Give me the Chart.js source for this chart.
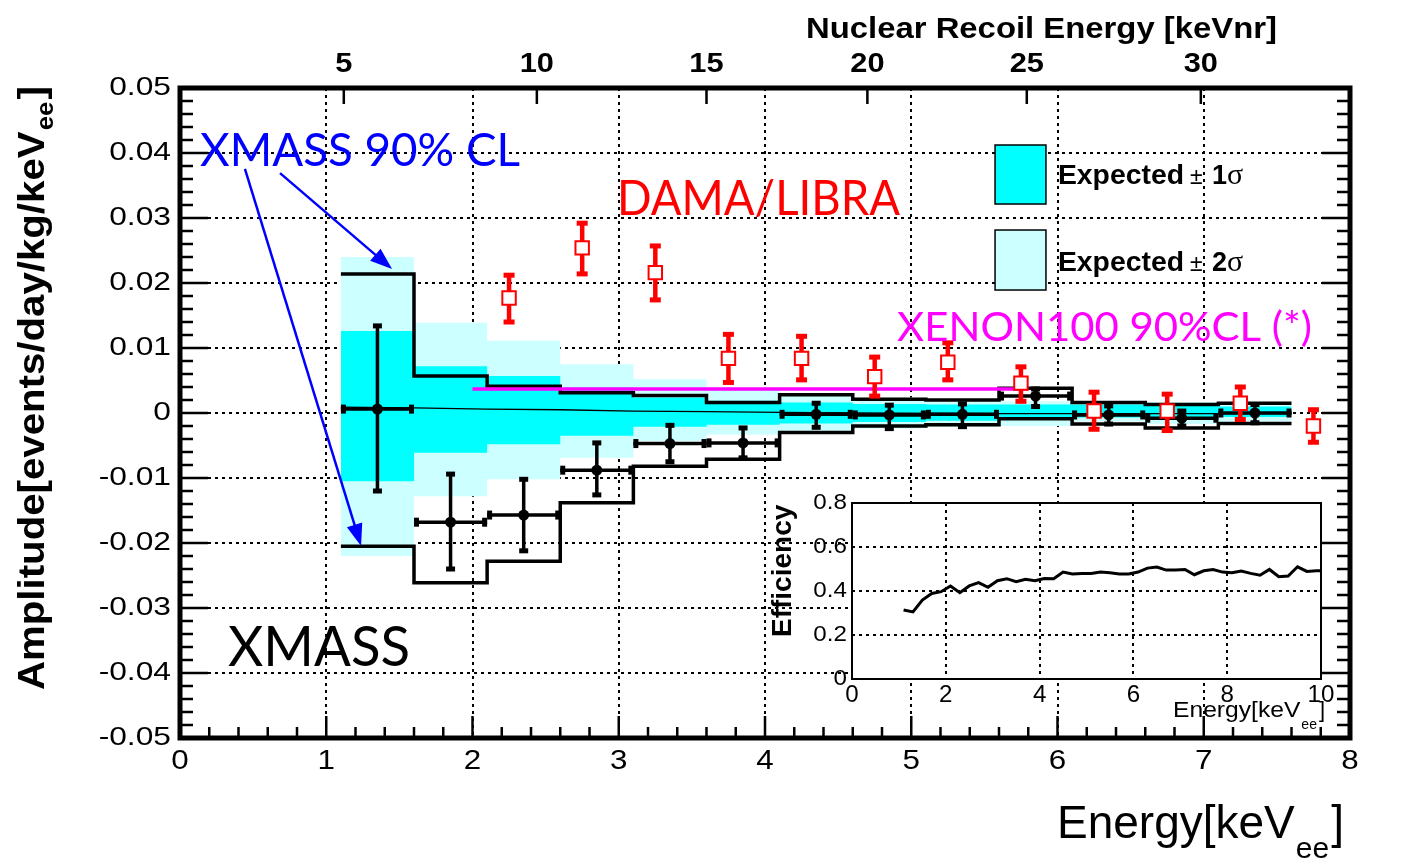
<!DOCTYPE html>
<html>
<head>
<meta charset="utf-8">
<title>XMASS modulation amplitude</title>
<script src="https://cdn.jsdelivr.net/npm/chart.js@4.4.1/dist/chart.umd.min.js"></script>
<style>
  body { margin: 0; background: #fff; }
  #wrap { position: relative; width: 1404px; height: 861px; }
  #wrap canvas { position: absolute; }
  #main { left: 0; top: 0; }
  #inset { left: 760px; top: 488px; }
</style>
</head>
<body>
<div id="wrap">
  <canvas id="main" width="1404" height="861"></canvas>
  <canvas id="inset" width="580" height="252"></canvas>
</div>
<script>
// energy bins of the XMASS analysis [keVee]
var binEdges = [1.1, 1.6, 2.1, 2.6, 3.1, 3.6, 4.1, 4.6, 5.1, 5.6, 6.1, 6.6, 7.1, 7.6];
var binCenters = [1.35, 1.85, 2.35, 2.85, 3.35, 3.85, 4.35, 4.85, 5.35, 5.85, 6.35, 6.85, 7.35];

// XMASS measured amplitude and the ends of its error bars
var xmassAmp = [0.0006, -0.0168, -0.0157, -0.0088, -0.0047, -0.0046, -0.0002, -0.0003, -0.0002, 0.0026, -0.0003, -0.0008, 0.0000];
var xmassErrTop = [0.0134, -0.0094, -0.0102, -0.0046, -0.0019, -0.0023, 0.0015, 0.0012, 0.0014, 0.0037, 0.0011, 0.0003, 0.0013];
var xmassErrBottom = [-0.0120, -0.0240, -0.0212, -0.0126, -0.0075, -0.0069, -0.0022, -0.0024, -0.0021, 0.0010, -0.0017, -0.0020, -0.0015];

// XMASS 90% CL limits per bin
var xmassUpper = [0.0214, 0.0057, 0.0041, 0.0031, 0.0027, 0.0016, 0.0028, 0.0021, 0.0020, 0.0038, 0.0016, 0.0013, 0.0015];
var xmassLower = [-0.0205, -0.0261, -0.0228, -0.0138, -0.0082, -0.0071, -0.0030, -0.0020, -0.0018, -0.0009, -0.0017, -0.0023, -0.0016];

// expected sensitivity bands per bin
var band1Top = [0.0126, 0.0072, 0.0057, 0.0039, 0.0024, 0.0019, 0.0016, 0.0014, 0.0013, 0.0013, 0.0013, 0.0011, 0.0010];
var band1Bottom = [-0.0105, -0.0061, -0.0048, -0.0035, -0.0021, -0.0018, -0.0016, -0.0014, -0.0012, -0.0010, -0.0007, -0.0008, -0.0006];
var band2Top = [0.0240, 0.0139, 0.0111, 0.0075, 0.0052, 0.0037, 0.0027, 0.0024, 0.0021, 0.0018, 0.0016, 0.0017, 0.0016];
var band2Bottom = [-0.0220, -0.0128, -0.0102, -0.0069, -0.0043, -0.0033, -0.0028, -0.0024, -0.0021, -0.0020, -0.0013, -0.0017, -0.0013];

// expected (median) line
var expectedE = [1.1, 1.6, 2.1, 2.6, 3.1, 3.6, 4.1, 4.6, 5.6, 6.6, 7.6];
var expectedAmp = [0.0009, 0.0008, 0.0006, 0.0005, 0.0003, 0.0002, 0.0001, 0.0000, -0.0001, -0.0001, -0.0001];

// DAMA/LIBRA points
var damaE = [2.25, 2.75, 3.25, 3.75, 4.25, 4.75, 5.25, 5.75, 6.25, 6.75, 7.25, 7.75];
var damaAmp = [0.0177, 0.0254, 0.0216, 0.0084, 0.0084, 0.0056, 0.0078, 0.0046, 0.0003, 0.0003, 0.0015, -0.0020];
var damaErrTop = [0.0212, 0.0292, 0.0257, 0.0121, 0.0118, 0.0086, 0.0108, 0.0071, 0.0032, 0.0029, 0.0040, 0.0005];
var damaErrBottom = [0.0140, 0.0214, 0.0174, 0.0047, 0.0051, 0.0026, 0.0051, 0.0018, -0.0025, -0.0027, -0.0010, -0.0045];

// XENON100 90% CL
var xenonE = [2.0, 5.8];
var xenonAmp = [0.0037, 0.0037];

// axis ticks
var energyTicks = [0, 1, 2, 3, 4, 5, 6, 7, 8];
var energyTickLabels = ['0', '1', '2', '3', '4', '5', '6', '7', '8'];
var ampTicks = [-0.05, -0.04, -0.03, -0.02, -0.01, 0, 0.01, 0.02, 0.03, 0.04, 0.05];
var ampTickLabels = ['-0.05', '-0.04', '-0.03', '-0.02', '-0.01', '0', '0.01', '0.02', '0.03', '0.04', '0.05'];
var nrTickPos = [1.12, 2.44, 3.60, 4.70, 5.79, 6.98];
var nrTickLabels = ['5', '10', '15', '20', '25', '30'];

// inset: efficiency
var effE = [1.1, 1.3, 1.5, 1.7, 1.9, 2.1, 2.3, 2.5, 2.7, 2.9, 3.1, 3.3, 3.5, 3.7, 3.9, 4.1, 4.3, 4.5, 4.7, 4.9, 5.1, 5.3, 5.5, 5.7, 5.9, 6.1, 6.3, 6.5, 6.7, 6.9, 7.1, 7.3, 7.5, 7.7, 7.9, 8.1, 8.3, 8.5, 8.7, 8.9, 9.1, 9.3, 9.5, 9.7, 9.9, 10.0];
var effVal = [0.314, 0.305, 0.359, 0.389, 0.397, 0.423, 0.392, 0.423, 0.438, 0.417, 0.447, 0.456, 0.442, 0.453, 0.447, 0.457, 0.456, 0.486, 0.477, 0.479, 0.480, 0.486, 0.483, 0.477, 0.477, 0.486, 0.504, 0.509, 0.495, 0.495, 0.498, 0.474, 0.492, 0.498, 0.486, 0.483, 0.491, 0.480, 0.472, 0.498, 0.465, 0.468, 0.510, 0.489, 0.492, 0.492];
var effETicks = [0, 2, 4, 6, 8, 10];
var effETickLabels = ['0', '2', '4', '6', '8', '10'];
var effTicks = [0, 0.2, 0.4, 0.6, 0.8];
var effTickLabels = ['0', '0.2', '0.4', '0.6', '0.8'];

var ROOT = '"Liberation Sans", Arial, sans-serif';
var PPT = 'Lato, "Open Sans", sans-serif';

function pairs(xs, ys) {
    return xs.map(function(x, i) { return {x: x, y: ys[i]}; });
}

// histogram style: one point per bin edge, last value repeated
function steps(edges, vals) {
    var pts = pairs(edges.slice(0, vals.length), vals);
    pts.push({x: edges[vals.length], y: vals[vals.length - 1]});
    return pts;
}

function tickList(vals) {
    return function(axis) { axis.ticks = vals.map(function(v) { return {value: v}; }); };
}

// draws text, optionally stretched horizontally, returns drawn width
function txt(c, s, x, y, font, color, align, sx, base) {
    sx = sx || 1;
    c.save();
    c.font = font;
    c.fillStyle = color || '#000';
    c.textAlign = 'left';
    c.textBaseline = base || 'alphabetic';
    c.translate(x, y);
    c.scale(sx, 1);
    var w = c.measureText(s).width;
    var dx = align === 'right' ? -w : (align === 'center' ? -w / 2 : 0);
    c.fillText(s, dx, 0);
    c.restore();
    return w * sx;
}

// text squeezed/stretched to go from x0 to x1
function fitTxt(c, s, x0, x1, y, font, color) {
    c.save();
    c.font = font;
    var w = c.measureText(s).width;
    c.restore();
    txt(c, s, x0, y, font, color, 'left', (x1 - x0) / w);
}

function arrow(c, x0, y0, x1, y1, color) {
    var a = Math.atan2(y1 - y0, x1 - x0), len = 22, half = 8;
    c.save();
    c.strokeStyle = color; c.fillStyle = color; c.lineWidth = 2.5;
    c.beginPath();
    c.moveTo(x0, y0);
    c.lineTo(x1 - Math.cos(a) * len * 0.8, y1 - Math.sin(a) * len * 0.8);
    c.stroke();
    c.beginPath();
    c.moveTo(x1, y1);
    c.lineTo(x1 - Math.cos(a) * len - Math.sin(a) * half, y1 - Math.sin(a) * len + Math.cos(a) * half);
    c.lineTo(x1 - Math.cos(a) * len + Math.sin(a) * half, y1 - Math.sin(a) * len - Math.cos(a) * half);
    c.closePath();
    c.fill();
    c.restore();
}

// error bars go under the markers of their dataset
var errorBars = {
    id: 'errorBars',
    beforeDatasetDraw: function(chart, args) {
        var ds = chart.data.datasets[args.index];
        if (!ds.errTop) return;
        var xs = chart.scales.x, ys = chart.scales.y, c = chart.ctx;
        c.save();
        c.strokeStyle = ds.barColor;
        c.fillStyle = ds.barColor;
        c.lineWidth = ds.barWidth;
        for (var i = 0; i < ds.errTop.length; i++) {
            var x = xs.getPixelForValue(ds.data[i].x);
            var y = ys.getPixelForValue(ds.data[i].y);
            var yt = ys.getPixelForValue(ds.errTop[i]);
            var yb = ys.getPixelForValue(ds.errBottom[i]);
            c.beginPath();
            c.moveTo(x, yt); c.lineTo(x, yb);
            c.stroke();
            c.fillRect(x - ds.capW / 2, yt - ds.capH / 2, ds.capW, ds.capH);
            c.fillRect(x - ds.capW / 2, yb - ds.capH / 2, ds.capW, ds.capH);
            if (ds.binLo) {
                var xl = xs.getPixelForValue(ds.binLo[i]);
                var xr = xs.getPixelForValue(ds.binHi[i]);
                c.beginPath();
                c.moveTo(xl, y); c.lineTo(xr, y);
                c.stroke();
                c.fillRect(xl, y - ds.capW / 2, ds.capH, ds.capW);
                c.fillRect(xr - ds.capH, y - ds.capW / 2, ds.capH, ds.capW);
            }
        }
        c.restore();
    }
};

// frame, ticks, labels, legend and the slide annotations
var decor = {
    id: 'decor',
    afterDraw: function(chart) {
        var c = chart.ctx, a = chart.chartArea;
        var xs = chart.scales.x, ys = chart.scales.y, xt = chart.scales.xTop;
        var X = function(v) { return xs.getPixelForValue(v); };
        var Y = function(v) { return ys.getPixelForValue(v); };
        var i, v, len;

        c.save();
        c.strokeStyle = '#000';
        c.lineWidth = 2.5;
        c.beginPath();
        // left / right ticks every 0.002
        for (i = -25; i <= 25; i++) {
            v = Y(i / 500);
            len = (i % 5 === 0) ? 28 : 13;
            c.moveTo(a.left, v); c.lineTo(a.left + len, v);
            c.moveTo(a.right, v); c.lineTo(a.right - len, v);
        }
        // bottom ticks every 0.2 keV
        for (i = 0; i <= 40; i++) {
            v = X(i / 5);
            len = (i % 5 === 0) ? 22 : 11;
            c.moveTo(v, a.bottom); c.lineTo(v, a.bottom - len);
        }
        // top: nuclear recoil energy ticks
        xt.ticks.forEach(function(t) {
            var p = xt.getPixelForValue(t.value);
            c.moveTo(p, a.top); c.lineTo(p, a.top + 16);
        });
        c.stroke();
        c.lineWidth = 5;
        c.strokeRect(a.left, a.top, a.right - a.left, a.bottom - a.top);
        c.restore();

        // tick labels
        ampTicks.forEach(function(t, k) {
            txt(c, ampTickLabels[k], a.left - 9, Y(t), '25px ' + ROOT, '#000', 'right', 1.27, 'middle');
        });
        energyTicks.forEach(function(t, k) {
            txt(c, energyTickLabels[k], X(t), 769, '28px ' + ROOT, '#000', 'center', 1.12);
        });
        xt.ticks.forEach(function(t, k) {
            txt(c, nrTickLabels[k], xt.getPixelForValue(t.value), 72, 'bold 28px ' + ROOT, '#000', 'center', 1.1);
        });

        // axis titles
        fitTxt(c, 'Nuclear Recoil Energy [keVnr]', 806, 1277, 38, 'bold 30px ' + ROOT, '#000');
        var w = txt(c, 'Energy[keV', 1057, 838, '46px ' + ROOT, '#000');
        var w2 = txt(c, 'ee', 1057 + w + 1, 858, '30px ' + ROOT, '#000');
        txt(c, ']', 1057 + w + w2 + 3, 838, '46px ' + ROOT, '#000');

        c.save();
        c.translate(44, 690);
        c.rotate(-Math.PI / 2);
        c.font = 'bold 36px ' + ROOT;
        var t1 = c.measureText('Amplitude[events/day/kg/keV').width;
        c.font = 'bold 23px ' + ROOT;
        var t2 = c.measureText('ee').width;
        c.font = 'bold 36px ' + ROOT;
        var t3 = c.measureText(']').width;
        c.scale(605 / (t1 + t2 + t3 + 4), 1);
        c.fillStyle = '#000';
        c.fillText('Amplitude[events/day/kg/keV', 0, 0);
        c.font = 'bold 23px ' + ROOT;
        c.fillText('ee', t1 + 1, 9);
        c.font = 'bold 36px ' + ROOT;
        c.fillText(']', t1 + t2 + 3, 0);
        c.restore();

        // legend
        var legend = [
            {top: 0.04123, bottom: 0.03215, color: '#00ffff', num: '1', base: 0.0353},
            {top: 0.02815, bottom: 0.01892, color: '#ccffff', num: '2', base: 0.0219}
        ];
        legend.forEach(function(l) {
            var x0 = X(5.573), x1 = X(5.921);
            c.save();
            c.fillStyle = l.color;
            c.fillRect(x0, Y(l.top), x1 - x0, Y(l.bottom) - Y(l.top));
            c.strokeStyle = '#000';
            c.lineWidth = 1.5;
            c.strokeRect(x0, Y(l.top), x1 - x0, Y(l.bottom) - Y(l.top));
            c.restore();
            var lx = X(6.003), ly = Y(l.base);
            var ew = txt(c, 'Expected', lx, ly, 'bold 27px ' + ROOT, '#000', 'left', 1.05);
            txt(c, '\u00b1', lx + ew + 6, ly, '23px ' + ROOT, '#000');
            txt(c, l.num, lx + ew + 28, ly, 'bold 27px ' + ROOT, '#000');
            txt(c, '\u03c3', lx + ew + 43, ly, '30px "Liberation Serif", serif', '#000');
        });

        // slide annotations
        fitTxt(c, 'XMASS 90% CL', X(0.137), X(2.325), Y(0.038), '46px ' + PPT, '#0000ff');
        fitTxt(c, 'DAMA/LIBRA', X(2.988), X(4.923), Y(0.0305), '48px ' + PPT, '#ff0000');
        fitTxt(c, 'XENON100 90%CL (*)', X(4.903), X(7.74), Y(0.0111), '41px ' + PPT, '#ff00ff');
        fitTxt(c, 'XMASS', X(0.328), X(1.573), Y(-0.0389), '56px ' + PPT, '#000');
        arrow(c, X(0.684), Y(0.0369), X(1.45), Y(0.02215), '#0000ff');
        arrow(c, X(0.444), Y(0.03754), X(1.238), Y(-0.02046), '#0000ff');
    }
};

var dashGrid = {color: '#000', lineWidth: 2, drawTicks: false};

var mainChart = new Chart(document.getElementById('main'), {
    type: 'line',
    data: {
        datasets: [
            {
                label: 'DAMA/LIBRA',
                data: pairs(damaE, damaAmp),
                showLine: false,
                pointStyle: 'rect',
                pointRadius: 9.5,
                pointBackgroundColor: '#fff',
                pointBorderColor: '#ff0000',
                pointBorderWidth: 2,
                errTop: damaErrTop, errBottom: damaErrBottom,
                barColor: '#ff0000', barWidth: 4.5, capW: 11, capH: 5
            },
            {
                label: 'XENON100 90%CL',
                data: pairs(xenonE, xenonAmp),
                borderColor: '#ff00ff',
                borderWidth: 3.5,
                pointRadius: 0
            },
            {
                label: 'XMASS',
                data: pairs(binCenters, xmassAmp),
                showLine: false,
                pointRadius: 5.5,
                pointBackgroundColor: '#000',
                pointBorderWidth: 0,
                errTop: xmassErrTop, errBottom: xmassErrBottom,
                binLo: binEdges.slice(0, 13), binHi: binEdges.slice(1),
                barColor: '#000', barWidth: 3.5, capW: 9, capH: 5
            },
            {
                label: 'XMASS 90% CL upper',
                data: steps(binEdges, xmassUpper),
                stepped: 'before',
                borderColor: '#000',
                borderWidth: 3.5,
                pointRadius: 0
            },
            {
                label: 'XMASS 90% CL lower',
                data: steps(binEdges, xmassLower),
                stepped: 'before',
                borderColor: '#000',
                borderWidth: 3.5,
                pointRadius: 0
            },
            {
                label: 'Expected',
                data: pairs(expectedE, expectedAmp),
                borderColor: '#000',
                borderWidth: 1.3,
                pointRadius: 0
            },
            {
                label: 'Expected +1 sigma',
                data: steps(binEdges, band1Top),
                stepped: 'before',
                borderWidth: 0,
                pointRadius: 0,
                backgroundColor: '#00ffff',
                fill: '+1'
            },
            {
                label: 'Expected -1 sigma',
                data: steps(binEdges, band1Bottom),
                stepped: 'before',
                borderWidth: 0,
                pointRadius: 0
            },
            {
                label: 'Expected +2 sigma',
                data: steps(binEdges, band2Top),
                stepped: 'before',
                borderWidth: 0,
                pointRadius: 0,
                backgroundColor: '#ccffff',
                fill: '+1'
            },
            {
                label: 'Expected -2 sigma',
                data: steps(binEdges, band2Bottom),
                stepped: 'before',
                borderWidth: 0,
                pointRadius: 0
            }
        ]
    },
    options: {
        responsive: false,
        animation: false,
        events: [],
        layout: {padding: {left: 180, right: 54, top: 88, bottom: 123}},
        plugins: {legend: {display: false}, tooltip: {enabled: false}},
        scales: {
            x: {
                type: 'linear', min: 0, max: 8,
                afterBuildTicks: tickList(energyTicks),
                ticks: {display: false},
                grid: dashGrid,
                border: {display: false, dash: [3, 4]},
                afterFit: function(s) { s.height = 0; }
            },
            xTop: {
                type: 'linear', position: 'top', min: 0, max: 8,
                afterBuildTicks: tickList(nrTickPos),
                ticks: {display: false},
                grid: {display: false, drawTicks: false},
                border: {display: false},
                afterFit: function(s) { s.height = 0; }
            },
            y: {
                type: 'linear', min: -0.05, max: 0.05,
                afterBuildTicks: tickList(ampTicks),
                ticks: {display: false},
                grid: dashGrid,
                border: {display: false, dash: [3, 4]},
                afterFit: function(s) { s.width = 0; }
            }
        }
    },
    plugins: [errorBars, decor]
});

// inset with the efficiency curve
var insetDecor = {
    id: 'insetDecor',
    beforeDraw: function(chart) {
        var c = chart.ctx, a = chart.chartArea;
        c.save();
        c.fillStyle = '#fff';
        c.fillRect(a.left, a.top, a.right - a.left, a.bottom - a.top);
        c.restore();
    },
    afterDraw: function(chart) {
        var c = chart.ctx, a = chart.chartArea;
        var xs = chart.scales.x, ys = chart.scales.y;
        c.save();
        c.strokeStyle = '#000';
        c.lineWidth = 2;
        c.strokeRect(a.left, a.top, a.right - a.left, a.bottom - a.top);
        c.restore();
        effTicks.forEach(function(t, k) {
            txt(c, effTickLabels[k], a.left - 5, ys.getPixelForValue(t), '22px ' + ROOT, '#000', 'right', 1.1, 'middle');
        });
        effETicks.forEach(function(t, k) {
            txt(c, effETickLabels[k], xs.getPixelForValue(t), a.bottom + 23, '23px ' + ROOT, '#000', 'center', 1.05);
        });
        c.save();
        c.translate(a.left - 61, a.top + 134);
        c.rotate(-Math.PI / 2);
        c.font = 'bold 28px ' + ROOT;
        c.fillStyle = '#000';
        c.fillText('Efficiency', 0, 0);
        c.restore();
        var ex = a.left + 321, ey = a.bottom + 38;
        var w = txt(c, 'Energy[keV', ex, ey, '22px ' + ROOT, '#000', 'left', 1.12);
        var w2 = txt(c, 'ee', ex + w + 1, ey + 12, '14px ' + ROOT, '#000');
        txt(c, ']', ex + w + w2 + 3, ey, '22px ' + ROOT, '#000');
    }
};

var insetChart = new Chart(document.getElementById('inset'), {
    type: 'line',
    data: {
        datasets: [{
            label: 'Efficiency',
            data: pairs(effE, effVal),
            borderColor: '#000',
            borderWidth: 3,
            pointRadius: 0
        }]
    },
    options: {
        responsive: false,
        animation: false,
        events: [],
        layout: {padding: {left: 92, right: 19, top: 15, bottom: 61}},
        plugins: {legend: {display: false}, tooltip: {enabled: false}},
        scales: {
            x: {
                type: 'linear', min: 0, max: 10,
                afterBuildTicks: tickList(effETicks),
                ticks: {display: false},
                grid: dashGrid,
                border: {display: false, dash: [3, 4]},
                afterFit: function(s) { s.height = 0; }
            },
            y: {
                type: 'linear', min: 0, max: 0.8,
                afterBuildTicks: tickList(effTicks),
                ticks: {display: false},
                grid: dashGrid,
                border: {display: false, dash: [3, 4]},
                afterFit: function(s) { s.width = 0; }
            }
        }
    },
    plugins: [insetDecor]
});
</script>
</body>
</html>
